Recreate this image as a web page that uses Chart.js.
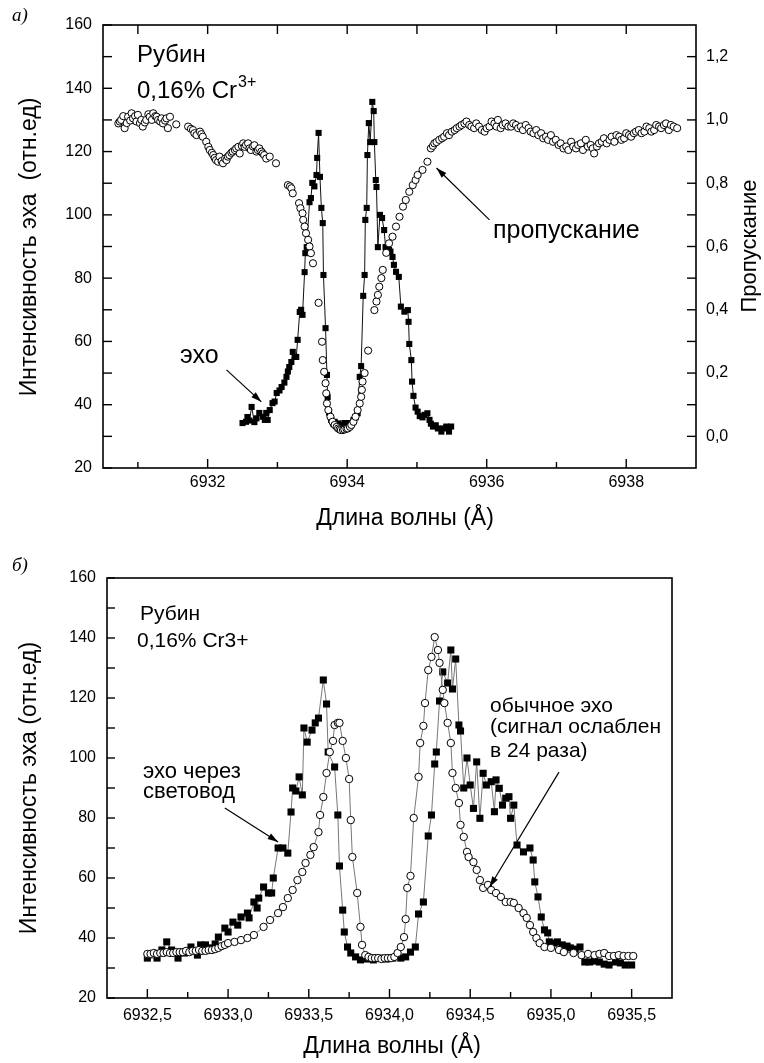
<!DOCTYPE html>
<html>
<head>
<meta charset="utf-8">
<script src="https://cdn.jsdelivr.net/npm/chart.js@4.4.1/dist/chart.umd.min.js"></script>
<style>
  html, body { margin: 0; padding: 0; background: #fff; }
  #wrap { position: relative; width: 764px; height: 1063px; }
  canvas { position: absolute; left: 0; }
  #chartA { top: 0; }
  #chartB { top: 545px; }
</style>
</head>
<body>
<div id="wrap">
  <canvas id="chartA" width="764" height="545"></canvas>
  <canvas id="chartB" width="764" height="518"></canvas>
</div>
<script>
// ---- panel a): transmission (right axis) and echo (left axis)
const topTransX = [6930.72,6930.74,6930.76,6930.79,6930.81,6930.84,6930.86,6930.89,6930.91,6930.93,6930.96,6930.98,6931.00,6931.03,6931.05,6931.07,6931.10,6931.12,6931.15,6931.17,6931.20,6931.22,6931.25,6931.27,6931.29,6931.32,6931.34,6931.36,6931.39,6931.41,6931.43,6931.46,6931.55,6931.72,6931.76,6931.79,6931.81,6931.84,6931.89,6931.91,6931.93,6931.98,6932.01,6932.03,6932.06,6932.08,6932.10,6932.12,6932.15,6932.17,6932.20,6932.22,6932.25,6932.27,6932.29,6932.31,6932.34,6932.36,6932.39,6932.41,6932.44,6932.46,6932.49,6932.51,6932.53,6932.55,6932.58,6932.60,6932.62,6932.65,6932.67,6932.70,6932.72,6932.74,6932.77,6932.79,6932.81,6932.84,6932.89,6932.98,6933.15,6933.18,6933.20,6933.22,6933.31,6933.33,6933.36,6933.37,6933.39,6933.41,6933.44,6933.46,6933.48,6933.51,6933.59,6933.64,6933.65,6933.67,6933.69,6933.70,6933.71,6933.73,6933.76,6933.79,6933.82,6933.85,6933.87,6933.89,6933.91,6933.94,6933.96,6933.99,6934.01,6934.04,6934.06,6934.09,6934.12,6934.15,6934.18,6934.20,6934.21,6934.22,6934.25,6934.30,6934.39,6934.42,6934.44,6934.46,6934.49,6934.51,6934.56,6934.60,6934.65,6934.70,6934.75,6934.80,6934.84,6934.89,6934.94,6934.98,6935.01,6935.08,6935.15,6935.20,6935.23,6935.25,6935.28,6935.32,6935.36,6935.39,6935.43,6935.46,6935.50,6935.54,6935.57,6935.61,6935.64,6935.68,6935.71,6935.75,6935.78,6935.82,6935.85,6935.89,6935.93,6935.97,6936.00,6936.04,6936.07,6936.11,6936.14,6936.16,6936.20,6936.23,6936.27,6936.31,6936.35,6936.38,6936.42,6936.45,6936.49,6936.52,6936.56,6936.60,6936.63,6936.67,6936.71,6936.74,6936.78,6936.81,6936.85,6936.88,6936.92,6936.95,6936.99,6937.03,6937.06,6937.10,6937.14,6937.17,6937.21,6937.24,6937.28,6937.31,6937.35,6937.38,6937.42,6937.45,6937.49,6937.52,6937.54,6937.58,6937.61,6937.65,6937.68,6937.72,6937.76,6937.79,6937.83,6937.86,6937.90,6937.93,6937.97,6938.00,6938.04,6938.07,6938.11,6938.14,6938.18,6938.22,6938.26,6938.29,6938.33,6938.36,6938.40,6938.43,6938.47,6938.50,6938.54,6938.57,6938.61,6938.64,6938.68,6938.73];
const topTransY = [0.989,0.995,1.000,1.012,0.974,0.990,1.010,0.998,1.021,1.005,1.012,0.995,1.016,0.990,1.000,0.979,0.992,1.000,1.018,1.010,1.000,1.021,1.012,1.010,1.000,0.995,1.005,0.989,0.998,1.005,0.974,1.010,0.986,0.979,0.972,0.968,0.958,0.952,0.963,0.955,0.947,0.931,0.915,0.905,0.896,0.889,0.880,0.873,0.868,0.884,0.870,0.863,0.878,0.873,0.884,0.889,0.896,0.900,0.905,0.910,0.915,0.894,0.918,0.926,0.915,0.921,0.926,0.910,0.905,0.916,0.920,0.900,0.905,0.910,0.900,0.894,0.889,0.878,0.884,0.863,0.794,0.790,0.784,0.768,0.737,0.721,0.705,0.684,0.663,0.642,0.621,0.600,0.579,0.547,0.422,0.299,0.241,0.204,0.168,0.136,0.104,0.083,0.062,0.046,0.036,0.030,0.025,0.022,0.020,0.020,0.022,0.024,0.025,0.030,0.036,0.046,0.062,0.083,0.104,0.125,0.147,0.173,0.200,0.271,0.399,0.426,0.447,0.473,0.500,0.526,0.580,0.610,0.631,0.663,0.694,0.726,0.747,0.773,0.794,0.810,0.826,0.842,0.868,0.910,0.918,0.926,0.930,0.937,0.942,0.947,0.958,0.952,0.963,0.968,0.974,0.979,0.984,0.989,0.995,0.984,0.979,0.974,0.989,0.979,0.968,0.963,0.974,0.979,0.995,0.989,0.979,1.000,0.974,0.984,0.989,0.979,0.979,0.989,0.984,0.974,0.979,0.968,0.984,0.974,0.963,0.958,0.968,0.952,0.958,0.942,0.947,0.937,0.952,0.931,0.937,0.921,0.926,0.910,0.916,0.905,0.931,0.916,0.910,0.921,0.926,0.905,0.937,0.916,0.921,0.910,0.894,0.916,0.926,0.931,0.942,0.926,0.937,0.947,0.931,0.952,0.947,0.937,0.942,0.958,0.952,0.947,0.958,0.963,0.968,0.958,0.963,0.979,0.974,0.963,0.968,0.984,0.979,0.974,0.984,0.989,0.968,0.984,0.979,0.974];

const topEchoX = [6932.50,6932.55,6932.57,6932.60,6932.63,6932.67,6932.70,6932.74,6932.79,6932.82,6932.84,6932.86,6932.89,6932.93,6932.96,6932.99,6933.03,6933.06,6933.10,6933.13,6933.15,6933.17,6933.20,6933.22,6933.25,6933.27,6933.29,6933.32,6933.34,6933.36,6933.39,6933.40,6933.42,6933.46,6933.48,6933.50,6933.53,6933.56,6933.57,6933.59,6933.61,6933.63,6933.65,6933.66,6933.69,6933.71,6933.72,6933.74,6933.77,6933.80,6933.82,6933.85,6933.87,6933.91,6933.93,6933.96,6934.01,6934.03,6934.06,6934.09,6934.12,6934.15,6934.18,6934.20,6934.23,6934.25,6934.26,6934.28,6934.29,6934.31,6934.33,6934.36,6934.38,6934.39,6934.41,6934.42,6934.44,6934.47,6934.50,6934.53,6934.55,6934.57,6934.60,6934.62,6934.65,6934.67,6934.70,6934.74,6934.77,6934.82,6934.87,6934.88,6934.89,6934.92,6934.93,6934.95,6934.98,6935.01,6935.04,6935.08,6935.11,6935.15,6935.18,6935.20,6935.23,6935.27,6935.30,6935.35,6935.38,6935.42,6935.46,6935.49];
const topEchoY = [34.2,34.6,36.1,35.0,39.3,34.5,35.7,37.4,36.2,35.2,37.4,35.2,38.3,40.5,41.0,43.7,44.5,45.6,47.0,48.8,50.5,51.9,53.5,56.7,55.1,55.1,60.5,69.3,70.0,68.4,81.9,87.9,89.8,104.0,105.3,110.1,109.0,112.6,118.0,125.9,112.0,102.2,97.4,81.0,64.2,49.4,42.4,37.5,35.2,34.0,34.6,33.3,34.1,33.6,33.0,34.2,34.2,33.5,34.2,35.2,36.0,37.3,48.8,52.2,74.4,81.0,98.4,102.2,118.9,129.0,123.0,135.7,132.8,123.0,111.0,108.8,89.8,100.0,99.0,95.2,89.8,89.8,88.9,88.4,86.7,84.2,82.0,80.4,71.0,69.4,69.9,66.2,59.2,54.1,47.3,42.8,39.1,37.8,36.4,36.0,36.8,37.3,35.2,34.0,33.1,33.5,32.5,31.5,32.5,33.1,31.5,33.1];

const topXTicks = [6932, 6934, 6936, 6938];
const topXMinor = [6931, 6933, 6935, 6937];
const leftTicks = [20, 40, 60, 80, 100, 120, 140, 160];
const leftMinor = [30, 50, 70, 90, 110, 130, 150];
const rightTicks = [0, 0.2, 0.4, 0.6, 0.8, 1.0, 1.2];
const rightMinor = [0.1, 0.3, 0.5, 0.7, 0.9, 1.1];

// ---- panel б): echo through fibre (squares) and ordinary echo (circles)
const botFiberX = [6932.50,6932.56,6932.59,6932.62,6932.65,6932.69,6932.73,6932.77,6932.81,6932.83,6932.86,6932.89,6932.92,6932.94,6932.98,6933.00,6933.03,6933.06,6933.08,6933.12,6933.13,6933.16,6933.18,6933.19,6933.22,6933.25,6933.27,6933.28,6933.31,6933.34,6933.37,6933.39,6933.40,6933.42,6933.44,6933.46,6933.47,6933.49,6933.52,6933.54,6933.56,6933.59,6933.61,6933.62,6933.66,6933.68,6933.69,6933.71,6933.72,6933.74,6933.76,6933.79,6933.82,6933.86,6933.90,6933.94,6933.98,6934.02,6934.07,6934.10,6934.13,6934.16,6934.18,6934.21,6934.24,6934.26,6934.28,6934.29,6934.31,6934.33,6934.36,6934.38,6934.39,6934.41,6934.43,6934.44,6934.46,6934.48,6934.50,6934.52,6934.54,6934.56,6934.58,6934.60,6934.63,6934.65,6934.66,6934.68,6934.70,6934.72,6934.74,6934.75,6934.77,6934.79,6934.83,6934.87,6934.89,6934.90,6934.92,6934.94,6934.96,6934.98,6934.99,6935.02,6935.04,6935.07,6935.10,6935.12,6935.15,6935.18,6935.21,6935.24,6935.27,6935.30,6935.33,6935.36,6935.40,6935.43,6935.46,6935.50];
const botFiberY = [33.3,33.3,36.0,38.7,36.0,33.3,35.0,37.0,34.3,37.7,37.7,36.7,38.0,40.3,43.3,42.0,45.3,44.3,47.0,48.3,46.7,52.0,50.0,53.3,57.0,55.0,55.0,60.0,70.0,70.0,68.3,82.0,90.0,89.0,93.7,87.7,110.0,105.3,109.3,111.7,113.3,126.0,118.0,102.0,97.0,81.0,64.0,49.3,42.0,37.0,35.0,33.7,32.7,33.0,32.7,33.3,33.0,33.3,33.3,33.7,35.3,37.0,48.0,52.0,74.0,81.0,98.0,102.0,119.0,128.7,125.0,136.0,123.0,133.0,111.0,109.0,90.0,100.0,91.0,83.2,98.7,79.9,94.9,91.0,92.1,82.1,92.7,89.9,84.3,86.6,87.1,79.9,84.3,71.0,68.7,70.0,66.0,58.7,53.7,47.0,42.7,41.7,38.7,38.3,38.7,37.7,37.3,36.7,36.3,37.0,32.0,32.0,32.3,32.0,31.3,31.0,32.0,31.7,31.0,31.0];

const botEchoX = [6932.50,6932.52,6932.54,6932.56,6932.58,6932.60,6932.62,6932.64,6932.66,6932.68,6932.70,6932.72,6932.74,6932.76,6932.78,6932.80,6932.82,6932.84,6932.86,6932.88,6932.90,6932.92,6932.94,6932.96,6932.98,6933.00,6933.04,6933.08,6933.12,6933.16,6933.22,6933.26,6933.31,6933.34,6933.37,6933.40,6933.43,6933.46,6933.48,6933.51,6933.53,6933.56,6933.57,6933.59,6933.61,6933.63,6933.65,6933.66,6933.68,6933.69,6933.71,6933.73,6933.75,6933.76,6933.77,6933.80,6933.82,6933.83,6933.85,6933.87,6933.89,6933.91,6933.93,6933.95,6933.97,6933.99,6934.01,6934.03,6934.05,6934.07,6934.09,6934.10,6934.11,6934.13,6934.15,6934.18,6934.19,6934.21,6934.22,6934.24,6934.26,6934.28,6934.30,6934.31,6934.33,6934.34,6934.36,6934.38,6934.39,6934.41,6934.43,6934.44,6934.46,6934.48,6934.49,6934.52,6934.54,6934.56,6934.58,6934.61,6934.63,6934.66,6934.69,6934.72,6934.75,6934.77,6934.80,6934.83,6934.85,6934.87,6934.89,6934.91,6934.93,6934.96,6935.00,6935.05,6935.08,6935.14,6935.19,6935.23,6935.27,6935.30,6935.33,6935.36,6935.39,6935.42,6935.45,6935.48,6935.51];
const botEchoY = [34.7,34.7,35.0,34.7,35.0,35.0,35.3,35.0,35.0,35.3,35.3,35.3,35.7,35.3,35.7,35.7,36.0,35.7,35.7,36.0,36.0,36.3,36.7,37.3,37.7,38.3,38.7,39.3,40.0,41.0,43.7,46.0,48.3,50.3,53.3,56.0,59.3,62.0,65.0,67.7,70.3,75.3,81.0,87.0,95.0,102.0,105.7,111.0,111.7,111.7,105.7,100.0,93.0,79.3,67.0,55.0,43.7,37.7,34.3,33.7,33.3,33.3,33.3,33.0,33.3,33.3,33.3,33.7,35.0,37.0,40.3,46.3,56.7,60.7,80.0,93.7,105.0,110.7,118.3,129.3,133.7,140.3,136.0,131.7,122.7,118.3,111.7,105.0,95.0,90.0,85.0,77.7,73.7,68.7,67.0,65.3,62.7,59.3,56.7,57.7,56.0,55.0,53.7,52.0,52.0,51.7,50.0,48.3,46.7,44.3,42.0,40.0,38.3,37.0,36.7,36.0,35.3,35.0,34.3,34.7,34.3,34.7,35.0,34.0,34.0,34.3,34.0,34.0,34.0];

const botXTicks = [6932.5, 6933, 6933.5, 6934, 6934.5, 6935, 6935.5];
const botXMinor = [6932.75, 6933.25, 6933.75, 6934.25, 6934.75, 6935.25];

const SANS = '"Liberation Sans", Arial, sans-serif';

function pts(xs, ys) {
    return xs.map((x, i) => ({ x: x, y: ys[i] }));
}

function drawArrow(ctx, x1, y1, x2, y2) {
    ctx.beginPath();
    ctx.moveTo(x1, y1);
    ctx.lineTo(x2, y2);
    ctx.stroke();
    const a = Math.atan2(y2 - y1, x2 - x1);
    const h = 11;
    ctx.beginPath();
    ctx.moveTo(x2, y2);
    ctx.lineTo(x2 - h * Math.cos(a - 0.3), y2 - h * Math.sin(a - 0.3));
    ctx.lineTo(x2 - h * Math.cos(a + 0.3), y2 - h * Math.sin(a + 0.3));
    ctx.closePath();
    ctx.fill();
}

// frame, inward tick marks, axis titles and notes
const decor = {
    id: 'decor',
    afterDraw(chart, args, o) {
        const ctx = chart.ctx;
        const a = chart.chartArea;
        ctx.save();
        ctx.strokeStyle = '#000';
        ctx.fillStyle = '#000';
        ctx.lineWidth = 1.6;
        ctx.strokeRect(a.left, a.top, a.right - a.left, a.bottom - a.top);

        ctx.lineWidth = 1.4;
        (o.ticks || []).forEach(t => {
            const s = chart.scales[t.scale];
            t.values.forEach(v => {
                const p = s.getPixelForValue(v);
                ctx.beginPath();
                if (t.side === 'bottom') { ctx.moveTo(p, a.bottom); ctx.lineTo(p, a.bottom - t.len); }
                if (t.side === 'top') { ctx.moveTo(p, a.top); ctx.lineTo(p, a.top + t.len); }
                if (t.side === 'left') { ctx.moveTo(a.left, p); ctx.lineTo(a.left + t.len, p); }
                if (t.side === 'right') { ctx.moveTo(a.right, p); ctx.lineTo(a.right - t.len, p); }
                ctx.stroke();
            });
        });

        // axis titles
        ctx.textAlign = 'center';
        ctx.textBaseline = 'middle';
        (o.titles || []).forEach(t => {
            ctx.font = t.size + 'px ' + SANS;
            ctx.save();
            ctx.translate(t.x, t.y);
            if (t.rot) ctx.rotate(t.rot);
            ctx.fillText(t.text, 0, 0);
            ctx.restore();
        });

        // notes
        ctx.textAlign = 'left';
        ctx.textBaseline = 'alphabetic';
        (o.notes || []).forEach(t => {
            ctx.font = (t.font || '') + t.size + 'px ' + (t.family || SANS);
            ctx.fillText(t.text, t.x, t.y);
            if (t.sup) {
                const w = ctx.measureText(t.text).width;
                ctx.font = t.supSize + 'px ' + SANS;
                ctx.fillText(t.sup, t.x + w + 1, t.y - t.supRise);
            }
        });

        // arrows in data coordinates
        ctx.lineWidth = 1.2;
        (o.arrows || []).forEach(r => {
            const sx = chart.scales.x, sy = chart.scales[r.axis];
            drawArrow(ctx,
                sx.getPixelForValue(r.from[0]), sy.getPixelForValue(r.from[1]),
                sx.getPixelForValue(r.to[0]), sy.getPixelForValue(r.to[1]));
        });
        ctx.restore();
    }
};

const tickFont = { family: SANS, size: 16 };
const noGrid = { display: false, drawTicks: false };

// ---------------- chart a)
new Chart(document.getElementById('chartA'), {
    type: 'scatter',
    data: {
        datasets: [{
            data: pts(topTransX, topTransY),
            yAxisID: 'y2',
            showLine: false,
            pointStyle: 'circle',
            pointRadius: 3.6,
            pointBorderWidth: 1,
            pointBorderColor: '#000',
            pointBackgroundColor: '#fff'
        }, {
            data: pts(topEchoX, topEchoY),
            yAxisID: 'y',
            showLine: true,
            borderColor: '#111',
            borderWidth: 1,
            pointStyle: 'rect',
            pointRadius: 4.3,
            pointBorderWidth: 0,
            pointBackgroundColor: '#000'
        }]
    },
    options: {
        responsive: false,
        animation: false,
        layout: { padding: { top: 25, left: 0, right: 0, bottom: 0 } },
        plugins: {
            legend: { display: false },
            tooltip: { enabled: false },
            decor: {
                ticks: [
                    { scale: 'x', side: 'bottom', values: topXTicks, len: 9 },
                    { scale: 'x', side: 'bottom', values: topXMinor, len: 6 },
                    { scale: 'x', side: 'top', values: topXTicks, len: 9 },
                    { scale: 'x', side: 'top', values: topXMinor, len: 9 },
                    { scale: 'y', side: 'left', values: leftTicks, len: 9 },
                    { scale: 'y', side: 'left', values: leftMinor, len: 9 },
                    { scale: 'y2', side: 'right', values: rightTicks, len: 9 },
                    { scale: 'y2', side: 'right', values: rightMinor, len: 9 }
                ],
                titles: [
                    { text: 'Длина волны (Å)', x: 405, y: 519, size: 23 },
                    { text: 'Интенсивность эха  (отн.ед)', x: 30, y: 247, size: 23, rot: -Math.PI / 2 },
                    { text: 'Пропускание', x: 750, y: 246, size: 22, rot: -Math.PI / 2 }
                ],
                notes: [
                    { text: 'а)', x: 12, y: 21, size: 19, font: 'italic ', family: '"Liberation Serif", "Times New Roman", serif' },
                    { text: 'Рубин', x: 137, y: 62, size: 24 },
                    { text: '0,16% Cr', x: 137, y: 98, size: 24, sup: '3+', supSize: 16, supRise: 11 },
                    { text: 'эхо', x: 180, y: 363, size: 25 },
                    { text: 'пропускание', x: 493, y: 238, size: 25 }
                ],
                arrows: [
                    { axis: 'y', from: [6932.27, 51], to: [6932.77, 40.9] },
                    { axis: 'y', from: [6936.04, 98.4], to: [6935.28, 114.8] }
                ]
            }
        },
        scales: {
            x: {
                type: 'linear', position: 'bottom', min: 6930.5, max: 6939,
                grid: noGrid, border: { display: false },
                ticks: { font: tickFont, color: '#000', padding: 5, maxRotation: 0, autoSkip: false, callback: v => String(v) },
                afterBuildTicks: s => { s.ticks = topXTicks.map(v => ({ value: v })); },
                afterFit: s => { s.height = 77; }
            },
            y: {
                type: 'linear', position: 'left', min: 20, max: 160,
                grid: noGrid, border: { display: false },
                ticks: { font: tickFont, color: '#000', padding: 11, callback: v => String(v) },
                afterBuildTicks: s => { s.ticks = leftTicks.map(v => ({ value: v })); },
                afterFit: s => { s.width = 103; }
            },
            y2: {
                type: 'linear', position: 'right', min: -0.1, max: 1.3,
                grid: noGrid, border: { display: false },
                ticks: { font: tickFont, color: '#000', padding: 10, callback: v => v.toFixed(1).replace('.', ',') },
                afterBuildTicks: s => { s.ticks = rightTicks.map(v => ({ value: v })); },
                afterFit: s => { s.width = 68; }
            }
        }
    },
    plugins: [decor]
});

// ---------------- chart б)
new Chart(document.getElementById('chartB'), {
    type: 'scatter',
    data: {
        datasets: [{
            data: pts(botEchoX, botEchoY),
            yAxisID: 'y',
            showLine: true,
            borderColor: '#777',
            borderWidth: 1,
            pointStyle: 'circle',
            pointRadius: 3.7,
            pointBorderWidth: 1,
            pointBorderColor: '#000',
            pointBackgroundColor: '#fff'
        }, {
            data: pts(botFiberX, botFiberY),
            yAxisID: 'y',
            showLine: true,
            borderColor: '#777',
            borderWidth: 1,
            pointStyle: 'rect',
            pointRadius: 5,
            pointBorderWidth: 0,
            pointBackgroundColor: '#000'
        }]
    },
    options: {
        responsive: false,
        animation: false,
        layout: { padding: { top: 33, left: 0, right: 92, bottom: 0 } },
        plugins: {
            legend: { display: false },
            tooltip: { enabled: false },
            decor: {
                ticks: [
                    { scale: 'x', side: 'bottom', values: botXTicks, len: 9 },
                    { scale: 'x', side: 'bottom', values: botXMinor, len: 6 },
                    { scale: 'y', side: 'left', values: leftTicks, len: 8 },
                    { scale: 'y', side: 'left', values: leftMinor, len: 8 }
                ],
                titles: [
                    { text: 'Длина волны (Å)', x: 392, y: 502, size: 23 },
                    { text: 'Интенсивность эха (отн.ед)', x: 30, y: 243, size: 23, rot: -Math.PI / 2 }
                ],
                notes: [
                    { text: 'б)', x: 12, y: 26, size: 19, font: 'italic ', family: '"Liberation Serif", "Times New Roman", serif' },
                    { text: 'Рубин', x: 140, y: 75, size: 21 },
                    { text: '0,16% Cr3+', x: 137, y: 102, size: 21 },
                    { text: 'эхо через', x: 143, y: 233, size: 22 },
                    { text: 'световод', x: 143, y: 253, size: 22 },
                    { text: 'обычное эхо', x: 490, y: 167, size: 21 },
                    { text: '(сигнал ослаблен', x: 490, y: 188, size: 21 },
                    { text: 'в 24 раза)', x: 490, y: 212, size: 21 }
                ],
                arrows: [
                    { axis: 'y', from: [6932.98, 83.3], to: [6933.31, 72] },
                    { axis: 'y', from: [6935.05, 95.3], to: [6934.62, 57] }
                ]
            }
        },
        scales: {
            x: {
                type: 'linear', position: 'bottom', min: 6932.25, max: 6935.75,
                grid: noGrid, border: { display: false },
                ticks: { font: tickFont, color: '#000', padding: 8, maxRotation: 0, autoSkip: false, callback: v => v.toFixed(1).replace('.', ',') },
                afterBuildTicks: s => { s.ticks = botXTicks.map(v => ({ value: v })); },
                afterFit: s => { s.height = 65; }
            },
            y: {
                type: 'linear', position: 'left', min: 20, max: 160,
                grid: noGrid, border: { display: false },
                ticks: { font: tickFont, color: '#000', padding: 11, callback: v => String(v) },
                afterBuildTicks: s => { s.ticks = leftTicks.map(v => ({ value: v })); },
                afterFit: s => { s.width = 107; }
            }
        }
    },
    plugins: [decor]
});
</script>
</body>
</html>
